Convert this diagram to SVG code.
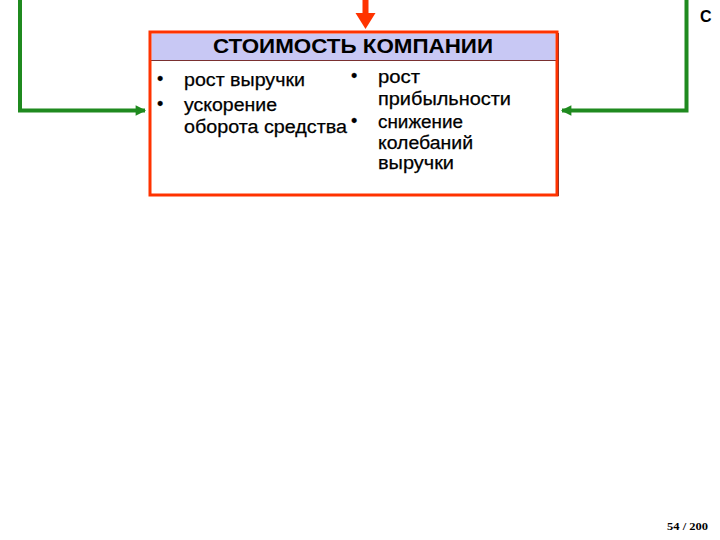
<svg xmlns="http://www.w3.org/2000/svg" width="720" height="540" viewBox="0 0 720 540">
<defs>
<style>
.t{font-family:"Liberation Sans",Arial,sans-serif;font-size:18px;fill:#000;stroke:#000;stroke-width:0.25}
.h{font-family:"Liberation Sans",Arial,sans-serif;font-size:20px;font-weight:bold;fill:#000}
.g{fill:none;stroke:#1f8a1f;stroke-width:4}
</style>
<marker id="ga" viewBox="0 0 10 10" refX="9" refY="5" markerWidth="3" markerHeight="2.6" orient="auto" markerUnits="strokeWidth"><path d="M0,0 L10,5 L0,10 Z" fill="#1f8a1f"/></marker>
</defs>
<rect width="720" height="540" fill="#fff"/>
<g id="connectors">
<path class="g" d="M20,0 V110.5 H145" marker-end="url(#ga)"/>
<path class="g" d="M686.5,0 V110.5 H562" marker-end="url(#ga)"/>
<path d="M362.5,0 H368.5 V13 H375.5 L365.5,29 L355.5,13 H362.5 Z" fill="#ff3300"/>
</g>
<g id="node-value">
<rect x="150" y="32" width="407" height="163" fill="#fff"/>
<rect x="151.5" y="33.5" width="404" height="27" fill="#c8c8f4"/>
<line x1="151" y1="60.5" x2="556" y2="60.5" stroke="#7a3030" stroke-width="1"/>
<rect x="150" y="32" width="407" height="163" fill="none" stroke="#ff3300" stroke-width="3"/>
<line x1="558.5" y1="33" x2="558.5" y2="196" stroke="#a03020" stroke-width="1"/>
<text class="h" x="213" y="53" textLength="280" lengthAdjust="spacingAndGlyphs">СТОИМОСТЬ КОМПАНИИ</text>
<text class="t" x="157" y="85">•</text>
<text class="t" x="184" y="86" textLength="121" lengthAdjust="spacingAndGlyphs">рост выручки</text>
<text class="t" x="157" y="110">•</text>
<text class="t" x="184" y="111" textLength="93" lengthAdjust="spacingAndGlyphs">ускорение</text>
<text class="t" x="184" y="133" textLength="163" lengthAdjust="spacingAndGlyphs">оборота средства</text>
<text class="t" x="351" y="82">•</text>
<text class="t" x="378" y="83" textLength="42" lengthAdjust="spacingAndGlyphs">рост</text>
<text class="t" x="378" y="105" textLength="133" lengthAdjust="spacingAndGlyphs">прибыльности</text>
<text class="t" x="351" y="127">•</text>
<text class="t" x="378" y="128" textLength="85" lengthAdjust="spacingAndGlyphs">снижение</text>
<text class="t" x="378" y="149" textLength="95" lengthAdjust="spacingAndGlyphs">колебаний</text>
<text class="t" x="378" y="169" textLength="76" lengthAdjust="spacingAndGlyphs">выручки</text>
</g>
<g id="node-c">
<text x="700" y="22" font-family="'Liberation Sans',Arial,sans-serif" font-size="16" font-weight="bold">С</text>
</g>
<g id="page">
<text x="667" y="530" font-family="'Liberation Serif','Times New Roman',serif" font-size="11" font-weight="bold" textLength="41" lengthAdjust="spacingAndGlyphs">54 / 200</text>
</g>
</svg>
